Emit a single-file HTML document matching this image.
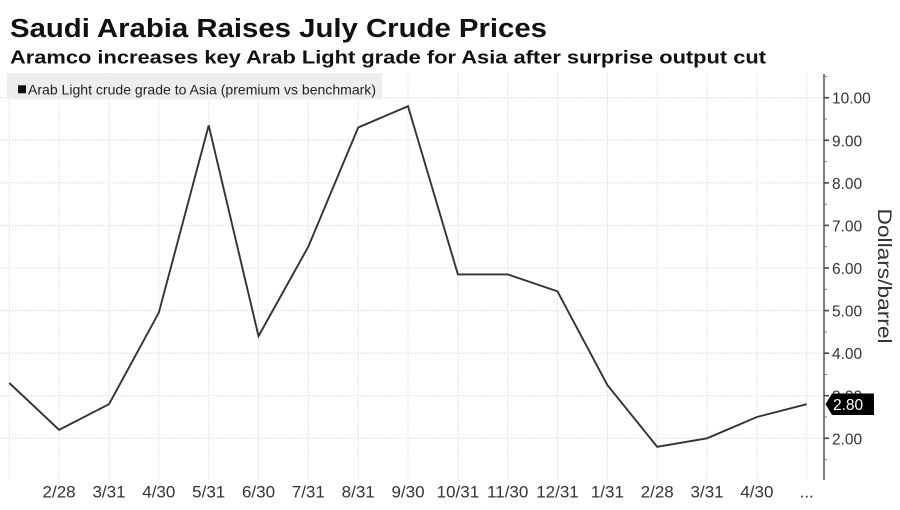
<!DOCTYPE html>
<html>
<head>
<meta charset="utf-8">
<style>
  html, body { margin: 0; padding: 0; background: #ffffff; }
  body { width: 900px; height: 510px; overflow: hidden; }
  svg { display: block; }
  text { font-family: "Liberation Sans", "DejaVu Sans", sans-serif; }
</style>
</head>
<body>
<svg width="900" height="510" viewBox="0 0 900 510" xmlns="http://www.w3.org/2000/svg">
  <rect x="0" y="0" width="900" height="510" fill="#ffffff"/>

  <!-- Titles -->
  <text x="10" y="37" font-size="25.5" font-weight="bold" fill="#111" textLength="537" lengthAdjust="spacingAndGlyphs">Saudi Arabia Raises July Crude Prices</text>
  <text x="10" y="63.5" font-size="18.5" font-weight="bold" fill="#111" textLength="756" lengthAdjust="spacingAndGlyphs">Aramco increases key Arab Light grade for Asia after surprise output cut</text>

  <!-- Vertical grid lines -->
  <g stroke="#e4e4e4" stroke-width="1" stroke-dasharray="2,1">
    <line x1="9.3" y1="73" x2="9.3" y2="479"/>
    <line x1="59.1" y1="73" x2="59.1" y2="479"/>
    <line x1="109.0" y1="73" x2="109.0" y2="479"/>
    <line x1="158.8" y1="73" x2="158.8" y2="479"/>
    <line x1="208.7" y1="73" x2="208.7" y2="479"/>
    <line x1="258.5" y1="73" x2="258.5" y2="479"/>
    <line x1="308.3" y1="73" x2="308.3" y2="479"/>
    <line x1="358.2" y1="73" x2="358.2" y2="479"/>
    <line x1="408.0" y1="73" x2="408.0" y2="479"/>
    <line x1="457.9" y1="73" x2="457.9" y2="479"/>
    <line x1="507.7" y1="73" x2="507.7" y2="479"/>
    <line x1="557.5" y1="73" x2="557.5" y2="479"/>
    <line x1="607.4" y1="73" x2="607.4" y2="479"/>
    <line x1="657.2" y1="73" x2="657.2" y2="479"/>
    <line x1="707.1" y1="73" x2="707.1" y2="479"/>
    <line x1="756.9" y1="73" x2="756.9" y2="479"/>
    <line x1="806.7" y1="73" x2="806.7" y2="479"/>
  </g>

  <!-- Horizontal grid lines -->
  <g stroke="#e4e4e4" stroke-width="1" stroke-dasharray="2,1">
    <line x1="0" y1="97.7" x2="824" y2="97.7"/>
    <line x1="0" y1="140.3" x2="824" y2="140.3"/>
    <line x1="0" y1="182.9" x2="824" y2="182.9"/>
    <line x1="0" y1="225.4" x2="824" y2="225.4"/>
    <line x1="0" y1="268.0" x2="824" y2="268.0"/>
    <line x1="0" y1="310.6" x2="824" y2="310.6"/>
    <line x1="0" y1="353.2" x2="824" y2="353.2"/>
    <line x1="0" y1="395.7" x2="824" y2="395.7"/>
    <line x1="0" y1="438.3" x2="824" y2="438.3"/>
  </g>

  <!-- Legend -->
  <rect x="7" y="73" width="375" height="26.5" fill="#ececec" fill-opacity="0.88"/>
  <rect x="18" y="85.3" width="8" height="8" fill="#111"/>
  <text x="28" y="94.5" font-size="14" fill="#222" textLength="348" lengthAdjust="spacingAndGlyphs">Arab Light crude grade to Asia (premium vs benchmark)</text>

  <!-- Data line -->
  <polyline fill="none" stroke="#333" stroke-width="1.9" stroke-linejoin="miter"
    points="9.3,383.0 59.1,429.8 109.0,404.2 158.8,312.7 208.7,125.4 258.5,336.1 308.3,246.7 358.2,127.5 408.0,106.2 457.9,274.4 507.7,274.4 557.5,291.4 607.4,385.1 657.2,446.8 707.1,438.3 756.9,417.0 806.7,404.2"/>

  <!-- Y axis -->
  <line x1="824" y1="74" x2="824" y2="480" stroke="#555" stroke-width="1.5"/>
  <g stroke="#444" stroke-width="1.6">
    <line x1="824" y1="97.7" x2="829" y2="97.7"/>
    <line x1="824" y1="140.3" x2="829" y2="140.3"/>
    <line x1="824" y1="182.9" x2="829" y2="182.9"/>
    <line x1="824" y1="225.4" x2="829" y2="225.4"/>
    <line x1="824" y1="268.0" x2="829" y2="268.0"/>
    <line x1="824" y1="310.6" x2="829" y2="310.6"/>
    <line x1="824" y1="353.2" x2="829" y2="353.2"/>
    <line x1="824" y1="395.7" x2="829" y2="395.7"/>
    <line x1="824" y1="438.3" x2="829" y2="438.3"/>
  </g>
  <g stroke="#777" stroke-width="1">
    <line x1="824" y1="76.4" x2="827" y2="76.4"/>
    <line x1="824" y1="119.0" x2="827" y2="119.0"/>
    <line x1="824" y1="161.6" x2="827" y2="161.6"/>
    <line x1="824" y1="204.2" x2="827" y2="204.2"/>
    <line x1="824" y1="246.7" x2="827" y2="246.7"/>
    <line x1="824" y1="289.3" x2="827" y2="289.3"/>
    <line x1="824" y1="331.9" x2="827" y2="331.9"/>
    <line x1="824" y1="374.5" x2="827" y2="374.5"/>
    <line x1="824" y1="417.0" x2="827" y2="417.0"/>
    <line x1="824" y1="459.6" x2="827" y2="459.6"/>
  </g>

  <g font-size="15.5" fill="#333">
    <text x="832" y="103.7">10.00</text>
    <text x="832" y="146.3">9.00</text>
    <text x="832" y="188.9">8.00</text>
    <text x="832" y="231.4">7.00</text>
    <text x="832" y="274.0">6.00</text>
    <text x="832" y="316.6">5.00</text>
    <text x="832" y="359.2">4.00</text>
    <text x="832" y="401.7">3.00</text>
    <text x="832" y="444.3">2.00</text>
  </g>

  <!-- Last value tag -->
  <polygon points="825.5,404.2 832,393.5 874,393.5 874,415 832,415" fill="#000"/>
  <text x="833" y="410" font-size="15.5" fill="#fff">2.80</text>

  <!-- Y axis title -->
  <text transform="translate(878,208.5) rotate(90)" font-size="19" fill="#333" textLength="135" lengthAdjust="spacingAndGlyphs">Dollars/barrel</text>

  <!-- X labels -->
  <g font-size="17" fill="#333" text-anchor="middle">
    <text x="59.1" y="497.5">2/28</text>
    <text x="109.0" y="497.5">3/31</text>
    <text x="158.8" y="497.5">4/30</text>
    <text x="208.7" y="497.5">5/31</text>
    <text x="258.5" y="497.5">6/30</text>
    <text x="308.3" y="497.5">7/31</text>
    <text x="358.2" y="497.5">8/31</text>
    <text x="408.0" y="497.5">9/30</text>
    <text x="457.9" y="497.5">10/31</text>
    <text x="507.7" y="497.5">11/30</text>
    <text x="557.5" y="497.5">12/31</text>
    <text x="607.4" y="497.5">1/31</text>
    <text x="657.2" y="497.5">2/28</text>
    <text x="707.1" y="497.5">3/31</text>
    <text x="756.9" y="497.5">4/30</text>
    <text x="806.7" y="497.5">...</text>
  </g>
</svg>
</body>
</html>
